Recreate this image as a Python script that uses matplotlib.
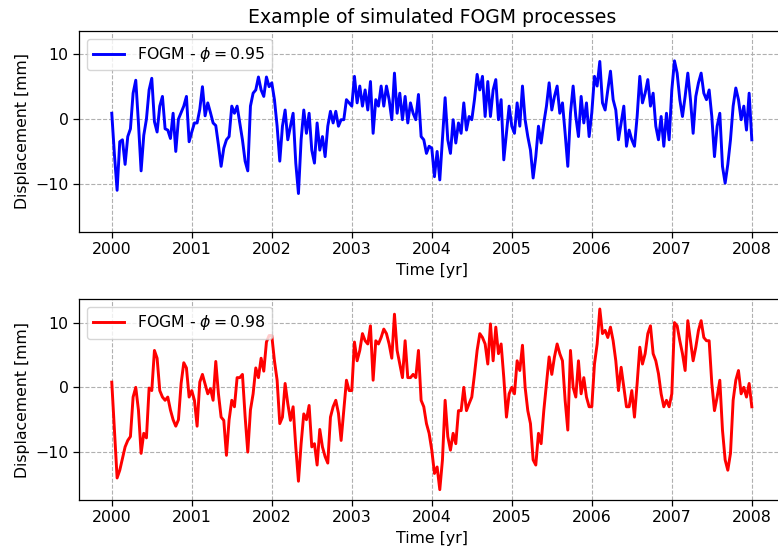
import numpy as np
import matplotlib
matplotlib.use("Agg")
import matplotlib.pyplot as plt

# ---------- DATA (~12 day steps) ----------
t_start = 2000.0
step_per_year = 30

fogm_095 = [
    0.9, -5.5, -11.0, -3.5, -3.2, -7.0, -2.7, -1.5, 4.0, 6.0,
    -0.6, -8.0, -2.5, 0.0, 4.5, 6.3, -0.4, -2.0, 2.0, 3.5,
    -1.5, -1.7, -3.0, 0.9, -5.0, 0.0, 1.0, 2.0, 3.5, -3.5,
    -2.0, -0.6, -0.6, 1.5, 5.0, 0.5, 2.5, 1.0, -0.6, -1.0,
    -4.0, -7.3, -4.5, -3.2, -2.7, 2.0, 0.9, 2.0, -0.6, -3.2,
    -6.5, -8.0, 2.0, 4.0, 4.5, 6.5, 4.5, 3.5, 6.5, 5.0,
    5.6,
    3.0, -1.1, -6.5, -1.1, 1.4, -3.2, -1.1, 0.9, -6.8, -11.5,
    -3.2, 1.4, -2.2, 0.9, -4.8, -6.8, -0.6, -4.8, -2.7, -5.8,
    -1.1, 1.2, -0.6, 1.2, -1.1, -0.1, -0.1, 3.0, 2.5, 2.0,
    6.6, 2.5, 5.1, 2.0, 4.5, 1.4, 5.8, -2.2, 3.0, 2.0,
    5.1, 2.0, 5.1, 3.0, -0.1, 7.1, 0.9, 4.0, -0.1, 3.5,
    -0.6, 2.5, 0.9, -0.1, 3.8, -2.7, -3.2, -5.3, -4.2, -4.5,
    -8.9, -5.0, -9.4, -3.0, 3.3, -3.2, -5.3, -0.1, -3.7, -0.6,
    -2.2, 2.5, -1.7, 0.4, -0.1, 3.0, 6.9, 4.5, 6.6, 0.4,
    5.8, 0.4, 4.5, 6.1, -0.1, 3.0, -6.3, -2.2, 2.0, -1.1,
    -2.2, 2.5, -1.1, 5.1, -0.1, -2.7, -4.8, -9.1, -5.8, -1.1,
    -3.7, -0.6, 2.0, 5.6, 1.4, 3.5, 5.1, 0.9, 2.5, -2.2,
    -7.3, 0.9, 5.1, 0.4, -2.7, 3.5, -0.6, 2.5, -2.7, 1.0,
    6.6, 5.1, 8.9, 2.5, 1.4, 4.5, 7.4, 3.0, 1.4, -3.2,
    -0.6, 2.0, -4.2, -1.7, -3.2, -4.2, 0.4, 6.6, 2.5, 4.0,
    6.1, 2.0, 4.0, -1.1, -3.2, 0.4, -4.2, 0.9, -3.2, 4.5,
    9.0, 7.1, 3.0, 0.4, 3.5, 7.1, 3.0, -2.2, 3.5, 5.6,
    7.1, 4.0, 3.0, 4.5, 0.4, -5.8, -1.1, 0.9, -7.3, -9.9,
    -7.0, -3.2, 2.0, 4.8, 3.0, -0.1, 2.0, -1.7, 4.0, -3.2,
]

fogm_098 = [
    0.8, -6.6, -14.0, -12.8, -11.0, -9.2, -8.2, -7.6, -1.5, 0.0,
    -3.5, -10.2, -7.1, -7.8, -0.1, -0.5, 5.7, 4.5, -0.5, -1.5,
    -2.0, -1.5, -3.5, -5.0, -6.0, -5.0, 0.6, 3.8, 3.0, -1.5,
    -0.5, -2.0, -6.0, 0.8, 2.0, 0.5, -1.0, -0.2, -2.0, 4.0,
    -1.0, -4.6, -5.1, -10.5, -5.0, -2.0, -3.0, 1.5, 1.5, 2.0,
    -4.5, -10.0, -3.5, -1.0, 3.0, 1.5, 4.5, 2.5, 7.0, 8.0,
    8.0,
    4.1, 1.1, -5.6, -4.6, 0.6, -2.5, -5.1, -3.0, -9.2, -14.5,
    -8.7, -4.1, -5.0, -2.8, -9.2, -8.7, -12.0, -6.5, -9.2, -10.7,
    -11.7, -4.6, -3.0, -2.0, -4.0, -8.2, -3.6, 1.1, -0.5, -0.5,
    7.0, 4.1, 5.7, 8.3, 7.2, 6.7, 9.5, 1.1, 7.2, 6.7,
    7.7, 9.0, 8.3, 6.7, 4.5, 11.3, 5.7, 3.6, 1.5, 7.2,
    1.5, 1.5, 2.0, 1.5, 5.7, -2.0, -3.0, -5.6, -7.1, -9.7,
    -13.3, -12.3, -15.8, -11.2, -2.0, -7.6, -9.7, -7.1, -8.7, -3.6,
    -3.6, 0.0, -3.6, -2.5, -1.5, 2.0, 5.7, 8.3, 7.7, 6.7,
    3.6, 9.8, 4.1, 9.3, 5.2, 6.7, 1.5, -4.6, -1.0, 0.0,
    -1.0, 4.1, 2.6, 6.5, 0.0, -3.6, -5.6, -11.2, -12.0, -7.1,
    -8.7, -3.6, 0.5, 4.7, 2.0, 4.7, 6.7, 5.2, 4.1, -2.0,
    -6.6, 5.7, 0.0, -1.5, 4.1, -1.0, 1.5, -1.5, -3.0, -3.0,
    3.6, 6.7, 12.1, 8.3, 8.8, 7.7, 9.3, 7.2, 4.1, -0.5,
    3.1, 0.0, -3.0, -3.0, -0.5, -4.6, 0.6, 6.2, 3.6, 5.2,
    8.3, 9.5, 5.2, 4.1, 2.1, -1.0, -3.0, -2.0, -3.0, -1.0,
    10.0, 9.5, 7.2, 5.2, 2.6, 10.3, 7.2, 4.1, 6.2, 8.8,
    10.3, 7.7, 7.2, 7.2, 0.6, -3.6, -1.5, 1.1, -6.6, -11.2,
    -12.8, -10.2, -2.0, 1.1, 2.6, -1.0, 0.0, -1.5, 0.6, -3.0,
]

phis = [0.95, 0.98]
colors = ['b', 'r']
years = [2000, 2001, 2002, 2003, 2004, 2005, 2006, 2007, 2008]
year_labels = [str(y) for y in years]
yticks = [-10, 0, 10]

time = t_start + np.arange(len(fogm_095)) / step_per_year

# ---------- STYLE ----------
fs = 11.3
plt.rcParams['font.family'] = ['DejaVu Sans']
plt.rcParams['font.size'] = fs
plt.rcParams['axes.linewidth'] = 0.9
plt.rcParams['xtick.major.size'] = 4
plt.rcParams['ytick.major.size'] = 4
plt.rcParams['xtick.major.width'] = 0.9
plt.rcParams['ytick.major.width'] = 0.9
plt.rcParams['mathtext.fontset'] = 'dejavusans'

# ---------- PLOT ----------
fig, axes = plt.subplots(2, 1, figsize=(7.78, 5.52), dpi=100)
fig.subplots_adjust(left=0.1015, right=1.0085, top=0.9438, bottom=0.0942, hspace=0.3366)

for ax, series, phi, col in zip(axes, [fogm_095, fogm_098], phis, colors):
    ax.plot(time, series, color=col, lw=2.1, label=r'FOGM - $\phi = %.2f$' % phi)
    ax.set_xlim(1999.59, 2008.41)
    ax.set_ylim(-17.4, 13.6)
    ax.set_xticks(years)
    ax.set_xticklabels(year_labels)
    ax.set_yticks(yticks)
    ax.set_xlabel('Time [yr]')
    ax.set_ylabel('Displacement [mm]')
    ax.grid(True, linestyle='--', color='#b0b0b0')
    ax.legend(loc='upper left', fontsize=fs)

axes[0].set_title('Example of simulated FOGM processes', fontsize=13.6)

fig.savefig('out.png', dpi=100)
